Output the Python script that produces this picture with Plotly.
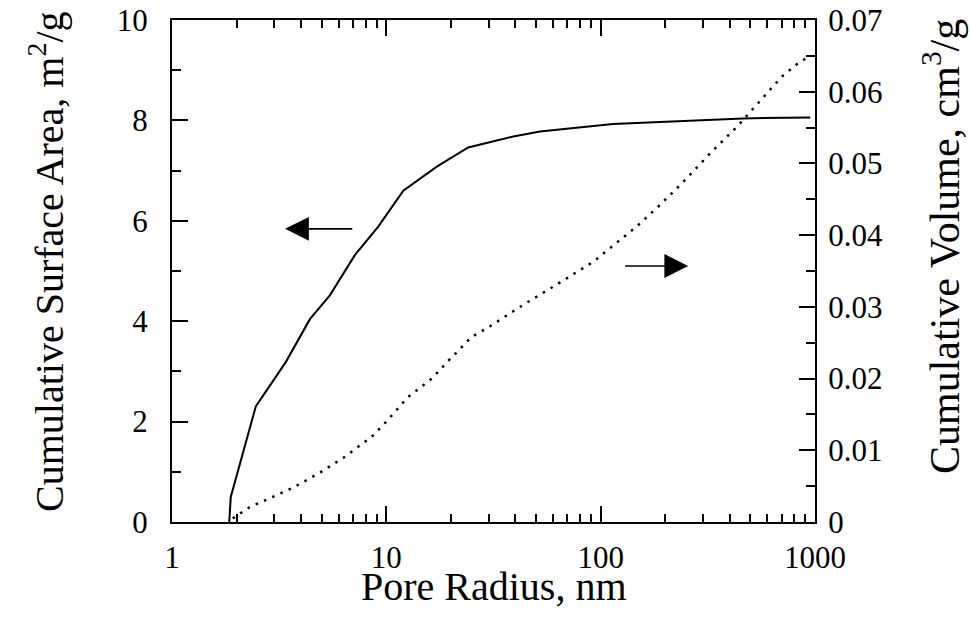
import plotly.graph_objects as go
import math

# Cumulative surface area (left axis)
sa_radius = [1.85, 1.88, 2.46, 3.40, 4.40, 5.46, 7.14, 9.15, 12.0, 17.2, 24.1, 30.5, 39.1, 52.1, 114, 462, 950]
sa_value = [0.0, 0.5, 2.30, 3.19, 4.04, 4.52, 5.32, 5.88, 6.60, 7.08, 7.46, 7.56, 7.68, 7.78, 7.93, 8.04, 8.06]

# Cumulative volume (right axis)
vol_radius = [1.92, 2.31, 2.81, 3.68, 4.85, 6.41, 8.55, 10.0, 12.6, 16.3, 19.5, 25.0, 30.5, 43.6, 63.9, 92.5, 147, 189, 248, 324, 432, 555, 700, 851, 950]
vol_value = [0.0005, 0.0021, 0.0032, 0.0048, 0.0068, 0.0091, 0.0119, 0.0140, 0.0174, 0.0200, 0.0225, 0.0258, 0.0273, 0.0303, 0.0333, 0.0363, 0.0412, 0.0442, 0.0477, 0.0514, 0.0551, 0.0588, 0.0621, 0.0642, 0.0649]

x_ticks = [1, 10, 100, 1000]
x_tick_text = ["1", "10", "100", "1000"]
x_minor = [2, 3, 4, 5, 6, 7, 8, 9, 20, 30, 40, 50, 60, 70, 80, 90, 200, 300, 400, 500, 600, 700, 800, 900]
y_ticks = [0, 2, 4, 6, 8, 10]
y_tick_text = ["0", "2", "4", "6", "8", "10"]
y2_ticks = [0, 0.01, 0.02, 0.03, 0.04, 0.05, 0.06, 0.07]
y2_tick_text = ["0", "0.01", "0.02", "0.03", "0.04", "0.05", "0.06", "0.07"]

FONT = "Liberation Serif"
TICK_SIZE = 31

# plot area in pixels
PL, PR, PT, PB = 172, 815, 20, 522
PW, PH = PR - PL, PB - PT
W, H = 970, 620


def px(x):
    return (x - PL) / PW


def py(y):
    return (PB - y) / PH


fig = go.Figure()
fig.add_trace(go.Scatter(x=sa_radius, y=sa_value, mode="lines",
                         line=dict(color="black", width=2), showlegend=False))
fig.add_trace(go.Scatter(x=vol_radius, y=vol_value, mode="lines", yaxis="y2",
                         line=dict(color="black", width=2.5, dash="2.5px,6.5px"), showlegend=False))

fig.update_layout(
    width=W, height=H,
    margin=dict(l=PL, r=W - PR, t=PT, b=H - PB, autoexpand=False),
    paper_bgcolor="white", plot_bgcolor="white",
    font=dict(family=FONT, color="black", size=TICK_SIZE),
    xaxis=dict(
        type="log", range=[0, 3], automargin=False,
        tickvals=x_ticks, ticktext=x_tick_text, ticklabeloverflow="allow",
        ticks="inside", ticklen=16, tickwidth=1.5, tickcolor="black",
        minor=dict(tickvals=x_minor, ticks="inside", ticklen=8, tickwidth=1.5, tickcolor="black", showgrid=False),
        showline=True, linecolor="black", linewidth=2, mirror="ticks",
        showgrid=False, zeroline=False,
        tickfont=dict(size=TICK_SIZE), ticklabelstandoff=7,
    ),
    yaxis=dict(
        range=[0, 10], tickvals=y_ticks, ticktext=y_tick_text, automargin=False,
        ticklabeloverflow="allow",
        ticks="inside", ticklen=16, tickwidth=1.5, tickcolor="black",
        minor=dict(dtick=1, ticks="inside", ticklen=9, tickwidth=1.5, tickcolor="black", showgrid=False),
        showline=True, linecolor="black", linewidth=2,
        showgrid=False, zeroline=False,
        tickfont=dict(size=TICK_SIZE), ticklabelstandoff=16,
    ),
    yaxis2=dict(
        overlaying="y", side="right", automargin=False,
        range=[0, 0.07], tickvals=y2_ticks, ticktext=y2_tick_text,
        ticklabeloverflow="allow",
        ticks="inside", ticklen=16, tickwidth=1.5, tickcolor="black",
        minor=dict(dtick=0.005, ticks="inside", ticklen=9, tickwidth=1.5, tickcolor="black", showgrid=False),
        showline=True, linecolor="black", linewidth=2,
        showgrid=False, zeroline=False,
        tickfont=dict(size=TICK_SIZE), ticklabelstandoff=5,
    ),
)

# Axis titles
fig.add_annotation(text="Pore Radius, nm", xref="paper", yref="paper",
                   x=px(494), y=py(587), xanchor="center", yanchor="middle",
                   showarrow=False, font=dict(size=40))
fig.add_annotation(text="Cumulative Surface Area, m<sup>2</sup>/g", xref="paper", yref="paper",
                   x=px(46), y=py(262), xanchor="center", yanchor="middle",
                   textangle=-90, showarrow=False, font=dict(size=40))
fig.add_annotation(text="Cumulative Volume, cm<sup>3</sup>/g", xref="paper", yref="paper",
                   x=px(941), y=py(247), xanchor="center", yanchor="middle",
                   textangle=-90, showarrow=False, font=dict(size=42))

# Arrows indicating which axis each curve belongs to
fig.add_annotation(x=math.log10(3.37), y=5.84, ax=math.log10(7.05), ay=5.84,
                   xref="x", yref="y", axref="x", ayref="y", text="",
                   showarrow=True, arrowhead=2, arrowsize=2.8, arrowwidth=1.7, arrowcolor="black")
fig.add_annotation(x=math.log10(256), y=5.10, ax=math.log10(128), ay=5.10,
                   xref="x", yref="y", axref="x", ayref="y", text="",
                   showarrow=True, arrowhead=2, arrowsize=2.8, arrowwidth=1.7, arrowcolor="black")

fig.write_html("out.html", config={"displayModeBar": False},
               post_script="document.body.style.margin='0';document.body.style.overflow='hidden';")
